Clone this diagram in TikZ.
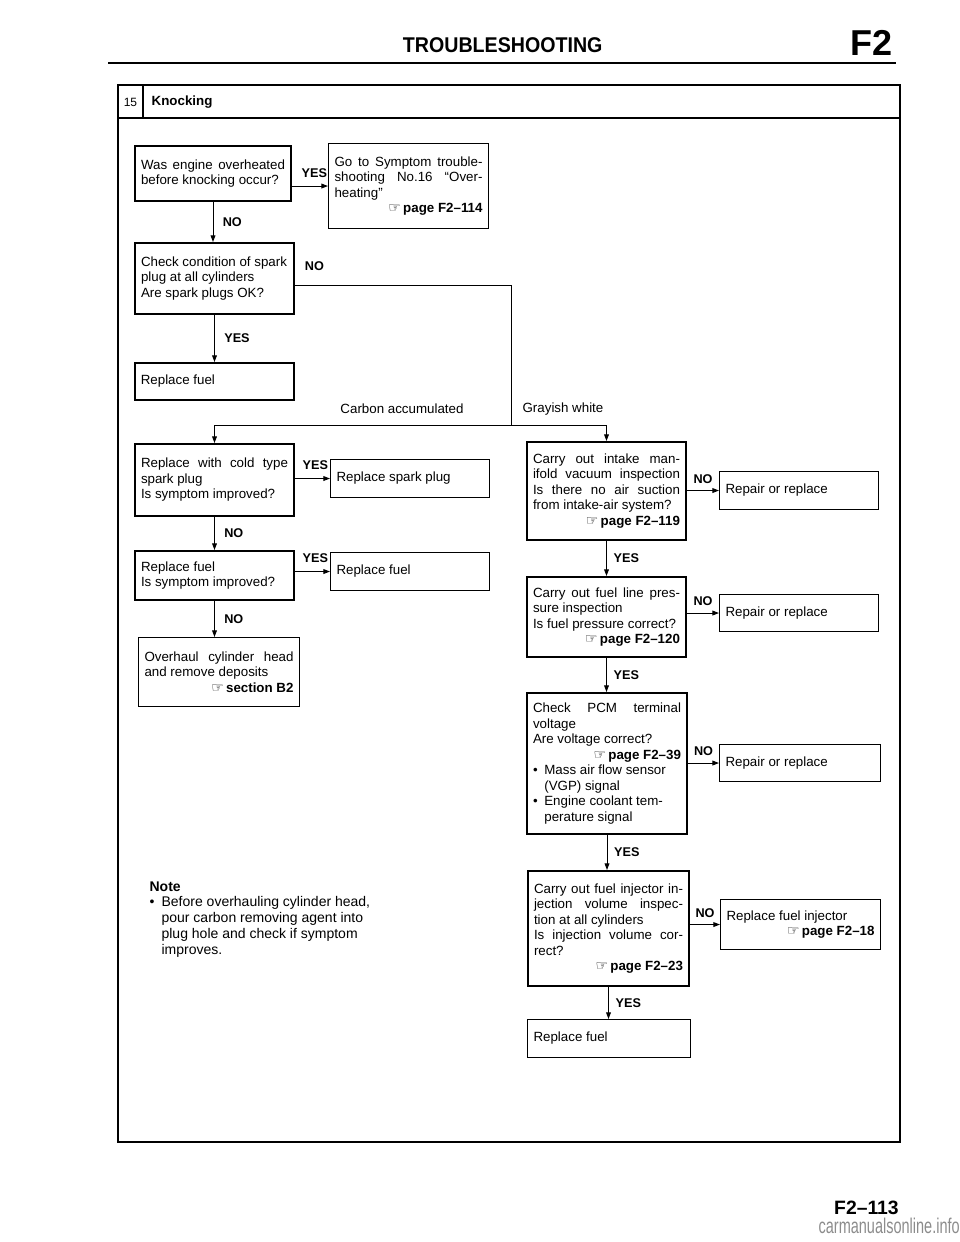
\documentclass[tikz,border=0pt]{standalone}
\usepackage{fontspec}
\usepackage{graphicx}
\setmainfont{Liberation Sans}
\newfontfamily\symfont{DejaVu Sans}
\usetikzlibrary{arrows.meta}
\tolerance=10000 \pretolerance=10000 \hbadness=10000 \hfuzz=5pt
\newcommand\hnd{{\symfont\fontsize{10.5}{10}\selectfont ☞}}
\newcommand\pref[1]{\hspace*{\fill}\hnd\,\textbf{#1}}
\begin{document}
\begin{tikzpicture}[x=0.75pt,y=-0.75pt,
  bx/.style={anchor=north west, font=\fontsize{10}{11.6}\selectfont, inner xsep=4.5pt, inner ysep=2pt, align=justify, draw},
  tbox/.style={bx, line width=1.5pt},
  nbox/.style={bx, line width=0.8pt},
  lab/.style={font=\bfseries\fontsize{9.5}{10}\selectfont, inner sep=1pt},
  txt/.style={font=\fontsize{10}{11.6}\selectfont, inner sep=1pt},
  ln/.style={line width=0.75pt},
  arr/.style={line width=0.75pt, -{Triangle[length=5pt,width=3.6pt]}},
  frame/.style={line width=1.2pt}]
\useasboundingbox (0,0) rectangle (960,1242);

% header
\node[font=\bfseries\fontsize{16}{16}\selectfont, anchor=base, inner sep=0] (title) at (502.7,52.7) {\scalebox{0.92}[1]{TROUBLESHOOTING}};
\node[font=\bfseries\fontsize{27}{27}\selectfont, anchor=base east, inner sep=0] (sec) at (893,55) {F2};
\draw[line width=1.5pt] (108,62.5) -- (896,62.5);

% frame
\draw[frame] (118,85) rectangle (900,1142);
\draw[frame] (118,118) -- (900,118);
\draw[frame] (143,85) -- (143,118);
\node[font=\fontsize{9}{9}\selectfont] (num) at (130.5,102) {15};
\node[font=\bfseries\fontsize{10}{10}\selectfont, anchor=west] (ttl) at (147,102) {Knocking};

% left column
\node[tbox, text width=108pt, minimum height=41.25pt] (b1) at (134,145)
  {Was engine overheated\linebreak before knocking occur?};
\node[nbox, text width=111pt, minimum height=63.75pt] (b3) at (328,143)
  {Go to Symptom trouble-\linebreak shooting No.16 “Over-\linebreak heating”\newline\pref{page F2--114}\hspace*{3pt}};
\node[tbox, text width=110.25pt, minimum height=53.25pt] (b5) at (134,242)
  {Check condition of spark\newline plug at all cylinders\newline Are spark plugs OK?};
\node[tbox, line width=1.2pt, text width=110.25pt, minimum height=27.75pt] (b8) at (134,362)
  {Replace fuel};
\node[tbox, text width=110.25pt, minimum height=54pt] (b9) at (134,443)
  {Replace with cold type\linebreak spark plug\newline Is symptom improved?};
\node[nbox, text width=110.25pt, minimum height=28.5pt] (b11) at (330,459)
  {Replace spark plug};
\node[tbox, text width=110.25pt, minimum height=36.75pt] (b13) at (134,550)
  {Replace fuel\newline Is symptom improved?};
\node[nbox, text width=110.25pt, minimum height=28.5pt] (b14) at (330,552)
  {Replace fuel};
\node[nbox, text width=111.75pt, minimum height=51.75pt] (b16) at (138,637)
  {Overhaul cylinder head\linebreak and remove deposits\newline\pref{section B2}\hspace*{5pt}};

% right column
\node[tbox, text width=110.25pt, minimum height=73.5pt] (b17) at (526,441)
  {Carry out intake man-\linebreak ifold vacuum inspection\linebreak Is there no air suction\linebreak from intake-air system?\newline\pref{page F2--119}};
\node[nbox, text width=110.25pt, minimum height=28.5pt] (b18) at (719,471)
  {Repair or replace};
\node[tbox, text width=110.25pt, minimum height=60pt] (b20) at (526,576)
  {Carry out fuel line pres-\linebreak sure inspection\newline Is fuel pressure correct?\newline\pref{page F2--120}};
\node[nbox, text width=110.25pt, minimum height=27.75pt] (b21) at (719,594)
  {Repair or replace};
\node[tbox, text width=111pt, minimum height=105.75pt] (b23) at (526,692)
  {Check PCM terminal\linebreak voltage\newline Are voltage correct?\newline\pref{page F2--39}\newline
   \makebox[8.5pt][l]{•}Mass air flow sensor\newline\hspace*{8.5pt}(VGP) signal\newline
   \makebox[8.5pt][l]{•}Engine coolant tem-\newline\hspace*{8.5pt}perature signal};
\node[nbox, text width=111.75pt, minimum height=27.75pt] (b24) at (719,744)
  {Repair or replace};
\node[tbox, text width=111.75pt, minimum height=86.25pt] (b26) at (527,870)
  {Carry out fuel injector in-\linebreak jection volume inspec-\linebreak tion at all cylinders\newline Is injection volume cor-\linebreak rect?\newline\pref{page F2--23}\hspace*{5pt}};
\node[nbox, text width=111pt, minimum height=37.5pt] (b27) at (720,899)
  {Replace fuel injector\newline\pref{page F2--18}};
\node[nbox, text width=113.25pt, minimum height=28.5pt] (b29) at (527,1019)
  {Replace fuel};

% note
\node[txt, anchor=north west, align=left, font=\fontsize{10.5}{11.8}\selectfont] (note) at (148,880)
  {\textbf{Note}\\
   \makebox[9pt][l]{•}Before overhauling cylinder head,\\
   \hspace*{9pt}pour carbon removing agent into\\
   \hspace*{9pt}plug hole and check if symptom\\
   \hspace*{9pt}improves.};

% connectors left
\draw[arr] (b1.south) -- node[lab, right=6pt]{NO} (b1.south |- b5.north);
\draw[arr] (b1.east |- b3.west) -- node[lab, above=5pt, pos=0.62]{YES} (b3.west);
\draw[arr] (b5.south) -- node[lab, right=6pt]{YES} (b5.south |- b8.north);
\coordinate (j) at (511,425);
\draw[ln] ([yshift=-5.25pt]b5.east) -- node[lab, above=10pt, pos=0.09]{NO} ([yshift=-5.25pt]b5.east -| j) -- (j);
\draw[arr] (j) -| (b9.north);
\draw[arr] (j) -| (b17.north);
\node[txt] (carb) at (402,409) {Carbon accumulated};
\node[txt] (gray) at (563,409) {Grayish white};
\draw[arr] (b9.east |- b11.west) -- node[lab, above=5pt, pos=0.58]{YES} (b11.west);
\draw[arr] (b9.south) -- node[lab, right=6pt]{NO} (b9.south |- b13.north);
\draw[arr] (b13.east |- b14.west) -- node[lab, above=5pt, pos=0.58]{YES} (b14.west);
\draw[arr] (b13.south) -- node[lab, right=6pt]{NO} (b13.south |- b16.north);

% connectors right
\draw[arr] (b17.east |- b18.west) -- node[lab, above=4pt, pos=0.5]{NO} (b18.west);
\draw[arr] (b17.south) -- node[lab, right=4pt]{YES} (b17.south |- b20.north);
\draw[arr] (b20.east |- b21.west) -- node[lab, above=4pt, pos=0.5]{NO} (b21.west);
\draw[arr] (b20.south) -- node[lab, right=4pt]{YES} (b20.south |- b23.north);
\draw[arr] (b23.east |- b24.west) -- node[lab, above=4pt, pos=0.5]{NO} (b24.west);
\draw[arr] (b23.south) -- node[lab, right=4pt]{YES} (b23.south |- b26.north);
\draw[arr] (b26.east |- b27.west) -- node[lab, above=4pt, pos=0.5]{NO} (b27.west);
\draw[arr] (b26.south) -- node[lab, right=4pt]{YES} (b26.south |- b29.north);

% footer
\node[font=\bfseries\fontsize{14.5}{14.5}\selectfont, anchor=base east, inner sep=0] (pg) at (899,1214) {F2--113};
\node[font=\fontsize{16}{16}\selectfont, text=black!45, anchor=base east, inner sep=0] (wm) at (960,1233) {\scalebox{0.68}[1]{carmanualsonline.info}};
\end{tikzpicture}
\end{document}
